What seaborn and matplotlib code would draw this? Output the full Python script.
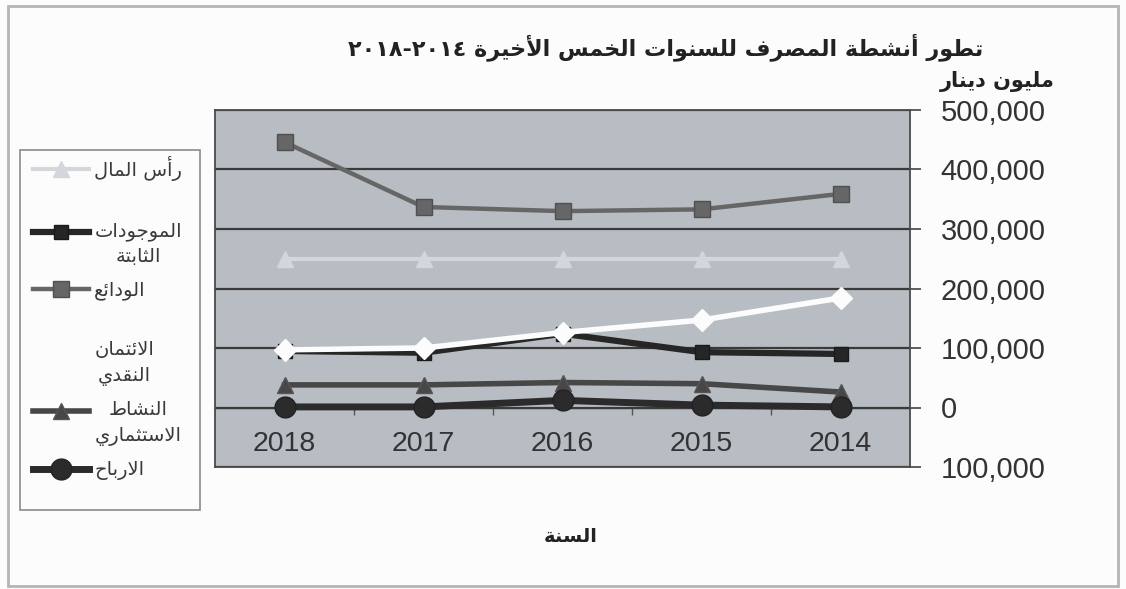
import re
import numpy as np
import pandas as pd
import matplotlib
matplotlib.use("Agg")
import matplotlib.pyplot as plt
import seaborn as sns
from matplotlib.legend_handler import HandlerLine2D
from matplotlib.patches import Rectangle
from matplotlib.ticker import FuncFormatter

# ---------------- data ----------------
years = [2014, 2015, 2016, 2017, 2018]
capital = [250000, 250000, 250000, 250000, 250000]
fixed_assets = [90000, 93000, 124000, 92000, 95000]
deposits = [359000, 333000, 330000, 337000, 446000]
cash_credit = [184000, 147000, 126000, 100000, 97000]
investment = [26000, 40000, 42000, 38000, 38000]
profits = [1000, 4000, 12000, 1000, 1000]

series_names = ["رأس المال", "الموجودات الثابتة", "الودائع",
                "الائتمان النقدي", "النشاط الاستثماري", "الارباح"]
series_values = [capital, fixed_assets, deposits, cash_credit, investment, profits]
y_ticks = [-100000, 0, 100000, 200000, 300000, 400000, 500000]

title_text = "تطور أنشطة المصرف للسنوات الخمس الأخيرة ٢٠١٤-٢٠١٨"
unit_text = "مليون دينار"
xlabel_text = "السنة"

# legend label lines (blank lines reproduce the original spacing)
legend_lines = {
    "رأس المال": ["رأس المال"],
    "الموجودات الثابتة": ["", "الموجودات", "الثابتة"],
    "الودائع": ["الودائع"],
    "الائتمان النقدي": ["", "الائتمان", "النقدي"],
    "النشاط الاستثماري": ["النشاط", "الاستثماري"],
    "الارباح": ["الارباح"],
}

# ---------------- minimal Arabic shaping ----------------
FORMS = {  # isolated, final, initial, medial
    '\u0621': ('\uFE80', None, None, None),
    '\u0622': ('\uFE81', '\uFE82', None, None),
    '\u0623': ('\uFE83', '\uFE84', None, None),
    '\u0624': ('\uFE85', '\uFE86', None, None),
    '\u0625': ('\uFE87', '\uFE88', None, None),
    '\u0626': ('\uFE89', '\uFE8A', '\uFE8B', '\uFE8C'),
    '\u0627': ('\uFE8D', '\uFE8E', None, None),
    '\u0628': ('\uFE8F', '\uFE90', '\uFE91', '\uFE92'),
    '\u0629': ('\uFE93', '\uFE94', None, None),
    '\u062A': ('\uFE95', '\uFE96', '\uFE97', '\uFE98'),
    '\u062B': ('\uFE99', '\uFE9A', '\uFE9B', '\uFE9C'),
    '\u062C': ('\uFE9D', '\uFE9E', '\uFE9F', '\uFEA0'),
    '\u062D': ('\uFEA1', '\uFEA2', '\uFEA3', '\uFEA4'),
    '\u062E': ('\uFEA5', '\uFEA6', '\uFEA7', '\uFEA8'),
    '\u062F': ('\uFEA9', '\uFEAA', None, None),
    '\u0630': ('\uFEAB', '\uFEAC', None, None),
    '\u0631': ('\uFEAD', '\uFEAE', None, None),
    '\u0632': ('\uFEAF', '\uFEB0', None, None),
    '\u0633': ('\uFEB1', '\uFEB2', '\uFEB3', '\uFEB4'),
    '\u0634': ('\uFEB5', '\uFEB6', '\uFEB7', '\uFEB8'),
    '\u0635': ('\uFEB9', '\uFEBA', '\uFEBB', '\uFEBC'),
    '\u0636': ('\uFEBD', '\uFEBE', '\uFEBF', '\uFEC0'),
    '\u0637': ('\uFEC1', '\uFEC2', '\uFEC3', '\uFEC4'),
    '\u0638': ('\uFEC5', '\uFEC6', '\uFEC7', '\uFEC8'),
    '\u0639': ('\uFEC9', '\uFECA', '\uFECB', '\uFECC'),
    '\u063A': ('\uFECD', '\uFECE', '\uFECF', '\uFED0'),
    '\u0641': ('\uFED1', '\uFED2', '\uFED3', '\uFED4'),
    '\u0642': ('\uFED5', '\uFED6', '\uFED7', '\uFED8'),
    '\u0643': ('\uFED9', '\uFEDA', '\uFEDB', '\uFEDC'),
    '\u0644': ('\uFEDD', '\uFEDE', '\uFEDF', '\uFEE0'),
    '\u0645': ('\uFEE1', '\uFEE2', '\uFEE3', '\uFEE4'),
    '\u0646': ('\uFEE5', '\uFEE6', '\uFEE7', '\uFEE8'),
    '\u0647': ('\uFEE9', '\uFEEA', '\uFEEB', '\uFEEC'),
    '\u0648': ('\uFEED', '\uFEEE', None, None),
    '\u0649': ('\uFEEF', '\uFEF0', None, None),
    '\u064A': ('\uFEF1', '\uFEF2', '\uFEF3', '\uFEF4'),
}
LAM_ALEF = {'\u0627': ('\uFEFB', '\uFEFC'), '\u0623': ('\uFEF7', '\uFEF8'),
            '\u0625': ('\uFEF9', '\uFEFA'), '\u0622': ('\uFEF5', '\uFEF6')}


def shape_line(text):
    toks, i = [], 0
    while i < len(text):
        c = text[i]
        if c == '\u0644' and i + 1 < len(text) and text[i + 1] in LAM_ALEF:
            toks.append(('LA', text[i + 1])); i += 2
        else:
            toks.append(('C', c)); i += 1

    def joins_next(t):
        if t[0] == 'LA':
            return False
        f = FORMS.get(t[1])
        return f is not None and f[2] is not None

    def joins_prev(t):
        if t[0] == 'LA':
            return True
        f = FORMS.get(t[1])
        return f is not None and f[1] is not None

    out = []
    for k, t in enumerate(toks):
        p = k > 0 and joins_next(toks[k - 1]) and joins_prev(t)
        n = k + 1 < len(toks) and joins_next(t) and joins_prev(toks[k + 1])
        if t[0] == 'LA':
            iso, fin = LAM_ALEF[t[1]]
            out.append(fin if p else iso)
            continue
        c = t[1]
        if c not in FORMS:
            out.append(c); continue
        iso, fin, ini, med = FORMS[c]
        out.append(med if (p and n) else fin if p else ini if n else iso)
    vis = ''.join(out)[::-1]
    return re.sub(r'[0-9\u0660-\u0669]+', lambda m: m.group(0)[::-1], vis)


def shape(text):
    return "\n".join(shape_line(l) for l in text.split("\n"))


# ---------------- styles ----------------
BG = "#fcfcfc"
styles = {
    "رأس المال": dict(color="#d3d7db", marker="^", ms=11, lw=3.0, mec="#d3d7db"),
    "الموجودات الثابتة": dict(color="#262626", marker="s", ms=10, lw=4.5, mec="#1a1a1a"),
    "الودائع": dict(color="#666666", marker="s", ms=12, lw=3.2, mec="#505050"),
    "الائتمان النقدي": dict(color=BG, marker="D", ms=11, lw=4.0, mec=BG),
    "النشاط الاستثماري": dict(color="#474747", marker="^", ms=12, lw=4.0, mec="#555555"),
    "الارباح": dict(color="#2b2b2b", marker="o", ms=15, lw=5.0, mec="#222222"),
}

ARABIC_FONT = ["DejaVu Sans"]
NUM_FONT = ["Liberation Sans", "DejaVu Sans"]

# ---------------- figure ----------------
fig = plt.figure(figsize=(11.26, 5.89), dpi=100)
fig.patch.set_facecolor(BG)
W, H = 1126, 589
ax = fig.add_axes([215 / W, 1 - 467 / H, 695 / W, 357 / H])
ax.set_facecolor("#b8bdc3")

for name, vals in zip(series_names, series_values):
    st = styles[name]
    sns.lineplot(x=years, y=vals, ax=ax, color=st["color"], linewidth=st["lw"],
                 marker=st["marker"], markersize=st["ms"], markeredgecolor=st["mec"],
                 markeredgewidth=1, label=name, errorbar=None)

if ax.get_legend() is not None:
    ax.get_legend().remove()

ax.set_xlim(2018.5, 2013.5)
ax.set_ylim(-100000, 500000)
ax.set_yticks(y_ticks)
ax.yaxis.set_major_formatter(FuncFormatter(lambda v, p: f"{abs(v):,.0f}"))
ax.yaxis.tick_right()
ax.tick_params(axis="y", direction="out", length=8, width=1.2, color="#444",
               pad=14, labelsize=21, labelcolor="#333")
for t in ax.get_yticklabels():
    t.set_fontfamily(NUM_FONT)

ax.set_xticks(years)
ax.set_xticklabels([str(y) for y in years])
ax.tick_params(axis="x", length=0, pad=-26, labelsize=20.5, labelcolor="#333")
for t in ax.get_xticklabels():
    t.set_fontfamily(NUM_FONT)

ax.yaxis.grid(True, color="#3a3a3a", linewidth=1.6)
ax.xaxis.grid(False)
ax.set_axisbelow(True)
for s in ax.spines.values():
    s.set_visible(True)
    s.set_color("#4a4a4a")
    s.set_linewidth(1.3)

# category axis crossing at zero with tick marks between categories
sec = ax.secondary_xaxis(100000 / 600000)
sec.set_xticks([2014.5, 2015.5, 2016.5, 2017.5])
sec.set_xticklabels([])
sec.tick_params(axis="x", direction="out", length=5, width=1, color="#555")
sec.spines["bottom"].set_color("#666")
sec.spines["bottom"].set_linewidth(1.0)

ax.set_xlabel(shape(xlabel_text), fontsize=14, fontweight="bold",
              family=ARABIC_FONT, color="#222")
ax.xaxis.set_label_coords((571 - 215) / 695, (467 - 536) / 357)
ax.xaxis.label.set_va("center")
ax.set_ylabel("")

fig.text(983 / W, 1 - 47 / H, shape(title_text), ha="right", va="center",
         fontsize=16, fontweight="bold", family=ARABIC_FONT, color="#222")
fig.text(1055 / W, 1 - 81 / H, shape(unit_text), ha="right", va="center",
         fontsize=15, fontweight="bold", family=ARABIC_FONT, color="#222")


# ---------------- legend ----------------
class ShiftedLine(HandlerLine2D):
    def __init__(self, shift=0.0, **kw):
        super().__init__(**kw)
        self.shift = shift

    def create_artists(self, legend, orig_handle, xdescent, ydescent, width,
                       height, fontsize, trans):
        arts = super().create_artists(legend, orig_handle, xdescent, ydescent,
                                      width, height, fontsize, trans)
        for a in arts:
            a.set_ydata(np.asarray(a.get_ydata()) + self.shift)
        return arts


handles, labels = ax.get_legend_handles_labels()
disp = [shape("\n".join(legend_lines[l])) for l in labels]
line_pitch = 18.0  # points
hmap = {}
for h, l in zip(handles, labels):
    lines = legend_lines[l]
    first = next(i for i, x in enumerate(lines) if x != "")
    hmap[h] = ShiftedLine(shift=line_pitch * ((len(lines) - 1) / 2 - first))

leg = fig.legend(handles, disp, loc="upper left",
                 bbox_to_anchor=(33 / W, 1 - 156 / H), frameon=False,
                 prop=dict(family=ARABIC_FONT, size=14), handlelength=2.9,
                 handletextpad=0.25, labelspacing=0.75, borderpad=0,
                 borderaxespad=0, handler_map=hmap)
for t in leg.get_texts():
    t.set_multialignment("center")
    t.set_linespacing(1.43)
    t.set_color("#3a3a3a")

fig.add_artist(Rectangle((20 / W, 1 - 510 / H), 180 / W, 360 / H,
                         transform=fig.transFigure, fill=False,
                         edgecolor="#8a8a8a", linewidth=1.2))
fig.add_artist(Rectangle((8 / W, 1 - 586 / H), 1110 / W, 580 / H,
                         transform=fig.transFigure, fill=False,
                         edgecolor="#b5b5b5", linewidth=2))

fig.savefig("out.png", dpi=100, facecolor=fig.get_facecolor())
